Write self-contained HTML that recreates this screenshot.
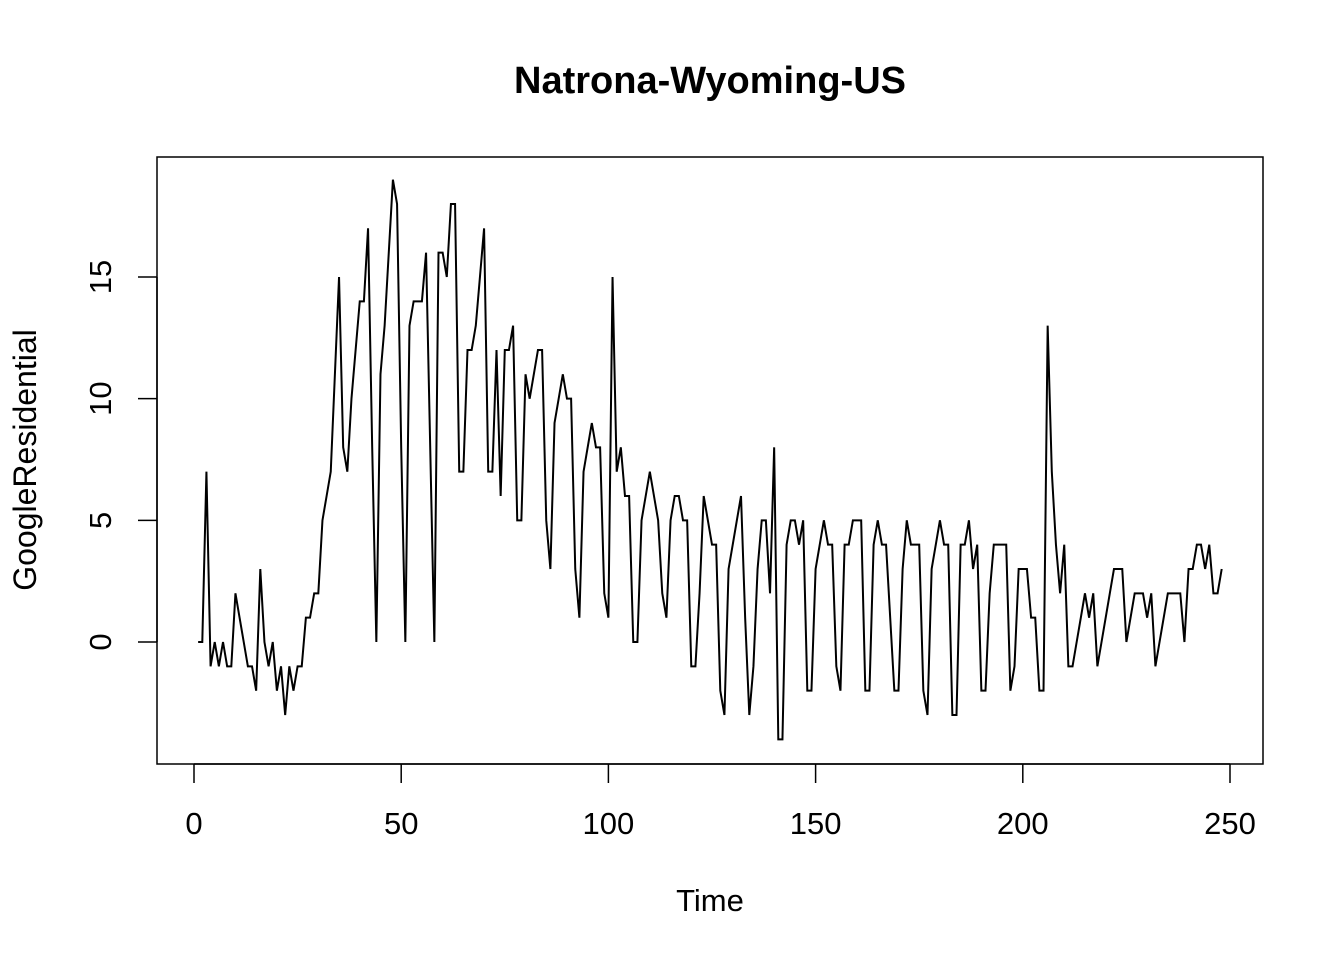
<!DOCTYPE html>
<html><head><meta charset="utf-8"><style>
html,body{margin:0;padding:0;background:#fff;}
svg{display:block;font-family:"Liberation Sans",Arial,sans-serif;}
</style></head><body>
<svg id="chart" width="1344" height="960" viewBox="0 0 1344 960">
<text x="710" y="93" text-anchor="middle" font-size="38" font-weight="bold">Natrona-Wyoming-US</text>
<rect x="157" y="157" width="1106" height="607" fill="none" stroke="#000" stroke-width="1.5"/>
<g id="xaxis"></g>
<g id="yaxis"></g>
<text x="710" y="911" text-anchor="middle" font-size="31">Time</text>
<text transform="translate(36,460) rotate(-90)" text-anchor="middle" font-size="32">GoogleResidential</text>
<path id="series" fill="none" stroke="#000" stroke-width="2" stroke-linejoin="miter"/>
</svg>
<script>
const values = [0,0,7,-1,0,-1,0,-1,-1,2,
1,0,-1,-1,-2,3,0,-1,0,-2,
-1,-3,-1,-2,-1,-1,1,1,2,2,
5,6,7,11,15,8,7,10,12,14,
14,17,8,0,11,13,16,19,18,8,
0,13,14,14,14,16,8,0,16,16,
15,18,18,7,7,12,12,13,15,17,
7,7,12,6,12,12,13,5,5,11,
10,11,12,12,5,3,9,10,11,10,
10,3,1,7,8,9,8,8,2,1,
15,7,8,6,6,0,0,5,6,7,
6,5,2,1,5,6,6,5,5,-1,
-1,2,6,5,4,4,-2,-3,3,4,
5,6,1,-3,-1,3,5,5,2,8,
-4,-4,4,5,5,4,5,-2,-2,3,
4,5,4,4,-1,-2,4,4,5,5,
5,-2,-2,4,5,4,4,1,-2,-2,
3,5,4,4,4,-2,-3,3,4,5,
4,4,-3,-3,4,4,5,3,4,-2,
-2,2,4,4,4,4,-2,-1,3,3,
3,1,1,-2,-2,13,7,4,2,4,
-1,-1,0,1,2,1,2,-1,0,1,
2,3,3,3,0,1,2,2,2,1,
2,-1,0,1,2,2,2,2,0,3,
3,4,4,3,4,2,2,3];
const startTime = 1;
const xTicks = [0,50,100,150,200,250];
const yTicks = [0,5,10,15];

const NS = "http://www.w3.org/2000/svg";
function xs(t){ return 194 + (t - 0) * (1230 - 194) / 250; }
function ys(v){ return 642 - v * (642 - 277) / 15; }

const xa = document.getElementById('xaxis');
const xl = document.createElementNS(NS,'line');
xl.setAttribute('x1', xs(xTicks[0])); xl.setAttribute('x2', xs(xTicks[xTicks.length-1]));
xl.setAttribute('y1', 764); xl.setAttribute('y2', 764);
xl.setAttribute('stroke','#000'); xl.setAttribute('stroke-width','1.5');


xa.appendChild(xl);
xTicks.forEach(t => {
  const tk = document.createElementNS(NS,'line');
  tk.setAttribute('x1', xs(t)); tk.setAttribute('x2', xs(t));
  tk.setAttribute('y1', 764); tk.setAttribute('y2', 783);
  tk.setAttribute('stroke','#000'); tk.setAttribute('stroke-width','1.5');
  
  
  xa.appendChild(tk);
  const lb = document.createElementNS(NS,'text');
  lb.setAttribute('x', xs(t)); lb.setAttribute('y', 834);
  lb.setAttribute('text-anchor','middle'); lb.setAttribute('font-size','31');
  lb.textContent = t;
  
  
  xa.appendChild(lb);
});

const ya = document.getElementById('yaxis');
const yl = document.createElementNS(NS,'line');
yl.setAttribute('x1', 157); yl.setAttribute('x2', 157);
yl.setAttribute('y1', ys(yTicks[0])); yl.setAttribute('y2', ys(yTicks[yTicks.length-1]));
yl.setAttribute('stroke','#000'); yl.setAttribute('stroke-width','1.5');


ya.appendChild(yl);
yTicks.forEach(v => {
  const tk = document.createElementNS(NS,'line');
  tk.setAttribute('x1', 138); tk.setAttribute('x2', 157);
  tk.setAttribute('y1', ys(v)); tk.setAttribute('y2', ys(v));
  tk.setAttribute('stroke','#000'); tk.setAttribute('stroke-width','1.5');
  
  
  ya.appendChild(tk);
  const lb = document.createElementNS(NS,'text');
  lb.setAttribute('transform', 'translate(111,' + ys(v) + ') rotate(-90)');
  lb.setAttribute('text-anchor','middle'); lb.setAttribute('font-size','31');
  lb.textContent = v;
  
  
  ya.appendChild(lb);
});

let d = '';
values.forEach((v,i) => {
  d += (i ? 'L' : 'M') + xs(startTime + i).toFixed(2) + ' ' + ys(v).toFixed(2) + ' ';
});
document.getElementById('series').setAttribute('d', d);
</script>
</body></html>
